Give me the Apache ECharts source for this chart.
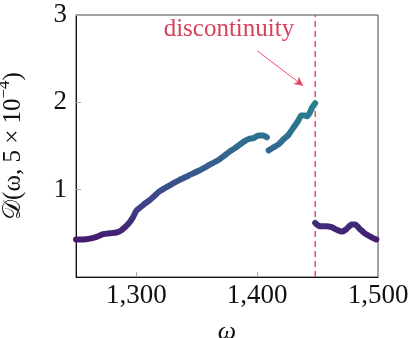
<!DOCTYPE html>
<html><head><meta charset="utf-8">
<script src="https://cdn.jsdelivr.net/npm/echarts@6/dist/echarts.min.js"></script>
<style>html,body{margin:0;padding:0;background:#fff}#c{width:411px;height:338px}</style>
</head><body><div id="c"></div>
<script>
// Data (ω, D)
const seg1 = [[1250,0.43],[1256,0.43],[1261.5,0.44],[1267,0.46],[1272.5,0.49],[1278,0.5],[1283.5,0.51],[1287,0.53],[1290.5,0.57],[1294,0.62],[1297,0.68],[1300,0.76],[1302.6,0.79],[1306,0.83],[1311,0.88],[1315,0.93],[1319,0.98],[1325,1.03],[1330,1.07],[1335.5,1.11],[1343,1.16],[1352,1.22],[1360,1.28],[1368,1.34],[1372,1.38],[1376.6,1.43],[1381,1.47],[1385,1.51],[1389,1.55],[1393,1.58],[1397,1.59],[1401,1.62],[1405,1.62],[1408,1.6]];
const seg2 = [[1409.5,1.45],[1413,1.48],[1417.8,1.52],[1422,1.58],[1426,1.63],[1429,1.69],[1431.5,1.74],[1434,1.79],[1436.5,1.85],[1439.5,1.85],[1441.5,1.84],[1443.5,1.88],[1445.5,1.94],[1448,1.99]];
const seg3 = [[1448,0.62],[1450.5,0.59],[1453.5,0.58],[1457,0.58],[1461.6,0.57],[1466,0.54],[1470,0.52],[1474,0.55],[1478,0.6],[1481,0.6],[1485,0.55],[1489,0.5],[1494,0.46],[1498.6,0.43]];
const xTicks = [1300, 1400, 1500];
const yTicks = [1, 2, 3];
const discontinuityAt = 1448;
const annotationText = 'discontinuity';
const arrowFrom = [1400, 2.59];
const arrowTo = [1438, 2.19];
const textAt = [1376.6, 2.83];

const red = '#e0304f';
const font = 'Liberation Serif';
const chart = echarts.init(document.getElementById('c'), null, {renderer:'canvas'});
const lineSeries = (d) => ({
  type:'line', data:d, showSymbol:false, symbol:'none', smooth:0.2,
  lineStyle:{width:6, cap:'round', join:'round'}, z:3
});
const vline = {
  type:'line', data:[[discontinuityAt,0],[discontinuityAt,3]], showSymbol:false, symbol:'none',
  silent:true, z:2, color:red, itemStyle:{color:red},
  lineStyle:{color:red, type:[6,4], width:1.3, opacity:1}
};
const annot = {
  type:'line', data:[], silent:true, z:5, color:red,
  markLine:{
    silent:true, animation:false, symbol:'none', label:{show:false}, z:5,
    lineStyle:{color:red, width:1, type:'solid', opacity:0.85},
    data:[
      [{coord:arrowFrom}, {coord:arrowTo, symbol:'arrow', symbolSize:[7,9]}]
    ]
  },
  markPoint:{
    silent:true, animation:false, symbol:'circle', symbolSize:0,
    data:[{coord:textAt, itemStyle:{color:'rgba(0,0,0,0)'},
      label:{show:true, position:'inside', formatter:annotationText, color:'#d9405c', fontFamily:font, fontSize:25}}]
  }
};
chart.setOption({
  animation:false,
  grid:{left:76, right:33, top:15, bottom:61, show:true, borderColor:'#444', borderWidth:1, outerBoundsMode:'none', containLabel:false},
  visualMap:{show:false, type:'continuous', dimension:1, min:0.4, max:2.0, seriesIndex:[0,1,2],
    inRange:{color:['#43196c','#3e3f86','#385a8d','#2d708e','#27808e']}},
  xAxis:{type:'value', min:1250, max:1500,
    name:'ω', nameLocation:'middle', nameGap:42,
    nameTextStyle:{fontFamily:font, fontStyle:'italic', fontSize:26, color:'#111'},
    axisLine:{show:true, lineStyle:{color:'#111', width:1}},
    axisTick:{show:true, inside:true, length:5, lineStyle:{color:'#aaa'}, customValues:xTicks},
    axisLabel:{customValues:xTicks, fontFamily:font, fontSize:27, color:'#111', margin:5,
      formatter:(v)=> v.toLocaleString('en-US')},
    splitLine:{show:false}},
  yAxis:{type:'value', min:0, max:3,
    name:'{a|𝒟(ω, 5 × 10}{s|−4}{a|)}', nameLocation:'middle', nameGap:50, nameRotate:90,
    nameTextStyle:{fontFamily:font, fontSize:25, color:'#111',
      rich:{a:{fontFamily:font, fontSize:25, color:'#111', lineHeight:30, verticalAlign:'bottom'},
            s:{fontFamily:font, fontSize:17, color:'#111', lineHeight:30, verticalAlign:'top'}}},
    axisLine:{show:true, lineStyle:{color:'#111', width:1}},
    axisTick:{show:true, inside:true, length:5, lineStyle:{color:'#aaa'}, customValues:yTicks},
    axisLabel:{customValues:yTicks, fontFamily:font, fontSize:27, color:'#111', margin:9},
    splitLine:{show:false}},
  series:[lineSeries(seg1), lineSeries(seg2), lineSeries(seg3), vline, annot]
});
</script></body></html>
